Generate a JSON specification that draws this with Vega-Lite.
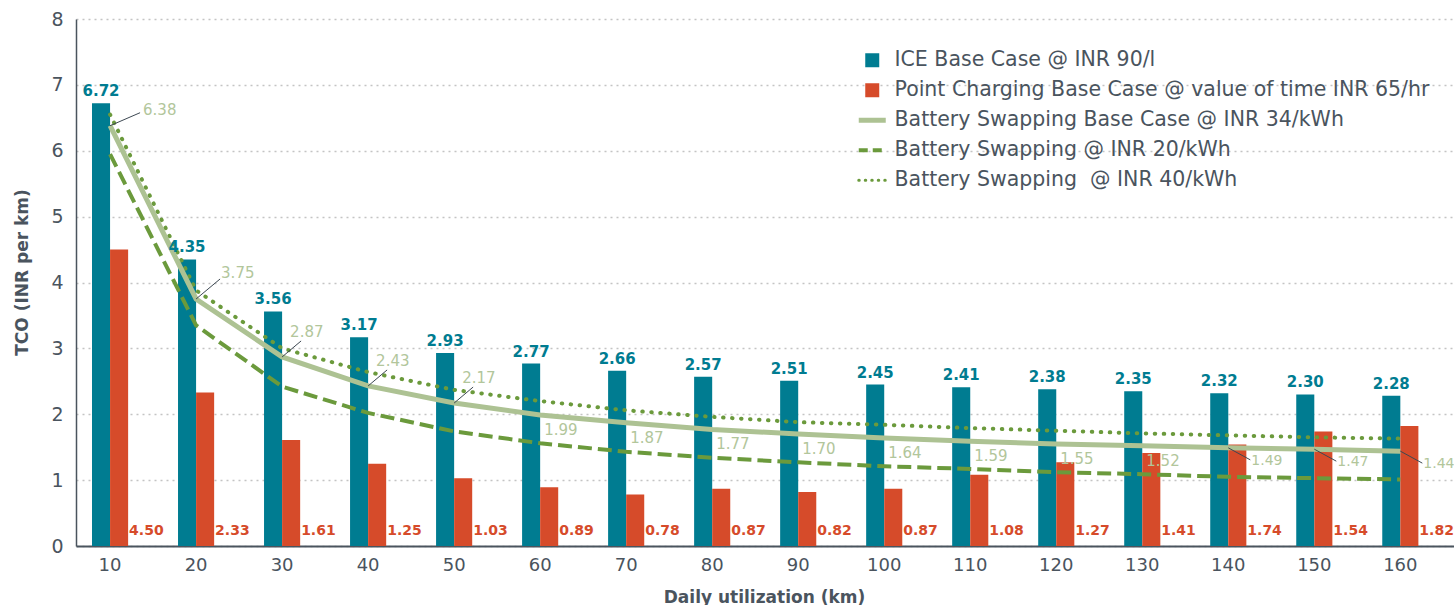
{
  "$schema": "https://vega.github.io/schema/vega-lite/v6.json",
  "width": 1378,
  "height": 527,
  "autosize": {"type": "none"},
  "padding": {"left": 76, "top": 19, "right": 0, "bottom": 59},
  "config": {
    "view": {"stroke": null},
    "font": "DejaVu Sans",
    "text": {"font": "DejaVu Sans"}
  },
  "data": {
    "values": [
      {"km": 10, "series": "ICE Base Case @ INR 90/l", "value": 6.72},
      {"km": 20, "series": "ICE Base Case @ INR 90/l", "value": 4.35},
      {"km": 30, "series": "ICE Base Case @ INR 90/l", "value": 3.56},
      {"km": 40, "series": "ICE Base Case @ INR 90/l", "value": 3.17},
      {"km": 50, "series": "ICE Base Case @ INR 90/l", "value": 2.93},
      {"km": 60, "series": "ICE Base Case @ INR 90/l", "value": 2.77},
      {"km": 70, "series": "ICE Base Case @ INR 90/l", "value": 2.66},
      {"km": 80, "series": "ICE Base Case @ INR 90/l", "value": 2.57},
      {"km": 90, "series": "ICE Base Case @ INR 90/l", "value": 2.51},
      {"km": 100, "series": "ICE Base Case @ INR 90/l", "value": 2.45},
      {"km": 110, "series": "ICE Base Case @ INR 90/l", "value": 2.41},
      {"km": 120, "series": "ICE Base Case @ INR 90/l", "value": 2.38},
      {"km": 130, "series": "ICE Base Case @ INR 90/l", "value": 2.35},
      {"km": 140, "series": "ICE Base Case @ INR 90/l", "value": 2.32},
      {"km": 150, "series": "ICE Base Case @ INR 90/l", "value": 2.30},
      {"km": 160, "series": "ICE Base Case @ INR 90/l", "value": 2.28},
      {"km": 10, "series": "Point Charging Base Case @ value of time INR 65/hr", "value": 4.50, "label": "4.50"},
      {"km": 20, "series": "Point Charging Base Case @ value of time INR 65/hr", "value": 2.33, "label": "2.33"},
      {"km": 30, "series": "Point Charging Base Case @ value of time INR 65/hr", "value": 1.61, "label": "1.61"},
      {"km": 40, "series": "Point Charging Base Case @ value of time INR 65/hr", "value": 1.25, "label": "1.25"},
      {"km": 50, "series": "Point Charging Base Case @ value of time INR 65/hr", "value": 1.03, "label": "1.03"},
      {"km": 60, "series": "Point Charging Base Case @ value of time INR 65/hr", "value": 0.89, "label": "0.89"},
      {"km": 70, "series": "Point Charging Base Case @ value of time INR 65/hr", "value": 0.78, "label": "0.78"},
      {"km": 80, "series": "Point Charging Base Case @ value of time INR 65/hr", "value": 0.87, "label": "0.87"},
      {"km": 90, "series": "Point Charging Base Case @ value of time INR 65/hr", "value": 0.82, "label": "0.82"},
      {"km": 100, "series": "Point Charging Base Case @ value of time INR 65/hr", "value": 0.87, "label": "0.87"},
      {"km": 110, "series": "Point Charging Base Case @ value of time INR 65/hr", "value": 1.08, "label": "1.08"},
      {"km": 120, "series": "Point Charging Base Case @ value of time INR 65/hr", "value": 1.27, "label": "1.27"},
      {"km": 130, "series": "Point Charging Base Case @ value of time INR 65/hr", "value": 1.41, "label": "1.41"},
      {"km": 140, "series": "Point Charging Base Case @ value of time INR 65/hr", "value": 1.54, "label": "1.74"},
      {"km": 150, "series": "Point Charging Base Case @ value of time INR 65/hr", "value": 1.74, "label": "1.54"},
      {"km": 160, "series": "Point Charging Base Case @ value of time INR 65/hr", "value": 1.82, "label": "1.82"},
      {"km": 10, "series": "Battery Swapping Base Case @ INR 34/kWh", "value": 6.38},
      {"km": 20, "series": "Battery Swapping Base Case @ INR 34/kWh", "value": 3.75},
      {"km": 30, "series": "Battery Swapping Base Case @ INR 34/kWh", "value": 2.87},
      {"km": 40, "series": "Battery Swapping Base Case @ INR 34/kWh", "value": 2.43},
      {"km": 50, "series": "Battery Swapping Base Case @ INR 34/kWh", "value": 2.17},
      {"km": 60, "series": "Battery Swapping Base Case @ INR 34/kWh", "value": 1.99},
      {"km": 70, "series": "Battery Swapping Base Case @ INR 34/kWh", "value": 1.87},
      {"km": 80, "series": "Battery Swapping Base Case @ INR 34/kWh", "value": 1.77},
      {"km": 90, "series": "Battery Swapping Base Case @ INR 34/kWh", "value": 1.70},
      {"km": 100, "series": "Battery Swapping Base Case @ INR 34/kWh", "value": 1.64},
      {"km": 110, "series": "Battery Swapping Base Case @ INR 34/kWh", "value": 1.59},
      {"km": 120, "series": "Battery Swapping Base Case @ INR 34/kWh", "value": 1.55},
      {"km": 130, "series": "Battery Swapping Base Case @ INR 34/kWh", "value": 1.52},
      {"km": 140, "series": "Battery Swapping Base Case @ INR 34/kWh", "value": 1.49},
      {"km": 150, "series": "Battery Swapping Base Case @ INR 34/kWh", "value": 1.47},
      {"km": 160, "series": "Battery Swapping Base Case @ INR 34/kWh", "value": 1.44},
      {"km": 10, "series": "Battery Swapping @ INR 20/kWh", "value": 5.95},
      {"km": 20, "series": "Battery Swapping @ INR 20/kWh", "value": 3.35},
      {"km": 30, "series": "Battery Swapping @ INR 20/kWh", "value": 2.42},
      {"km": 40, "series": "Battery Swapping @ INR 20/kWh", "value": 2.02},
      {"km": 50, "series": "Battery Swapping @ INR 20/kWh", "value": 1.74},
      {"km": 60, "series": "Battery Swapping @ INR 20/kWh", "value": 1.56},
      {"km": 70, "series": "Battery Swapping @ INR 20/kWh", "value": 1.43},
      {"km": 80, "series": "Battery Swapping @ INR 20/kWh", "value": 1.34},
      {"km": 90, "series": "Battery Swapping @ INR 20/kWh", "value": 1.27},
      {"km": 100, "series": "Battery Swapping @ INR 20/kWh", "value": 1.21},
      {"km": 110, "series": "Battery Swapping @ INR 20/kWh", "value": 1.17},
      {"km": 120, "series": "Battery Swapping @ INR 20/kWh", "value": 1.12},
      {"km": 130, "series": "Battery Swapping @ INR 20/kWh", "value": 1.09},
      {"km": 140, "series": "Battery Swapping @ INR 20/kWh", "value": 1.05},
      {"km": 150, "series": "Battery Swapping @ INR 20/kWh", "value": 1.03},
      {"km": 160, "series": "Battery Swapping @ INR 20/kWh", "value": 1.01},
      {"km": 10, "series": "Battery Swapping  @ INR 40/kWh", "value": 6.55},
      {"km": 20, "series": "Battery Swapping  @ INR 40/kWh", "value": 3.88},
      {"km": 30, "series": "Battery Swapping  @ INR 40/kWh", "value": 3.0},
      {"km": 40, "series": "Battery Swapping  @ INR 40/kWh", "value": 2.64},
      {"km": 50, "series": "Battery Swapping  @ INR 40/kWh", "value": 2.37},
      {"km": 60, "series": "Battery Swapping  @ INR 40/kWh", "value": 2.20},
      {"km": 70, "series": "Battery Swapping  @ INR 40/kWh", "value": 2.06},
      {"km": 80, "series": "Battery Swapping  @ INR 40/kWh", "value": 1.96},
      {"km": 90, "series": "Battery Swapping  @ INR 40/kWh", "value": 1.88},
      {"km": 100, "series": "Battery Swapping  @ INR 40/kWh", "value": 1.84},
      {"km": 110, "series": "Battery Swapping  @ INR 40/kWh", "value": 1.79},
      {"km": 120, "series": "Battery Swapping  @ INR 40/kWh", "value": 1.75},
      {"km": 130, "series": "Battery Swapping  @ INR 40/kWh", "value": 1.71},
      {"km": 140, "series": "Battery Swapping  @ INR 40/kWh", "value": 1.68},
      {"km": 150, "series": "Battery Swapping  @ INR 40/kWh", "value": 1.65},
      {"km": 160, "series": "Battery Swapping  @ INR 40/kWh", "value": 1.63}
    ]
  },
  "encoding": {
    "x": {
      "field": "km",
      "type": "ordinal",
      "scale": {"paddingInner": 0.58, "paddingOuter": 0.3, "align": 0.31},
      "axis": {
        "title": "Daily utilization (km)",
        "titleFont": "DejaVu Sans",
        "titleFontSize": 17,
        "titleFontWeight": "bold",
        "titleColor": "#4a545e",
        "titleX": 688,
        "titleY": 51,
        "titleBaseline": "middle",
        "labelAngle": 0,
        "labelFont": "DejaVu Sans",
        "labelFontSize": 18,
        "labelColor": "#4a545e",
        "labelPadding": 10,
        "ticks": false,
        "domainColor": "#4a545e",
        "domainWidth": 2
      }
    },
    "y": {
      "field": "value",
      "type": "quantitative",
      "scale": {"domain": [0, 8], "nice": false},
      "axis": {
        "title": "TCO (INR per km)",
        "titleFont": "DejaVu Sans",
        "titleFontSize": 17,
        "titleFontWeight": "bold",
        "titleColor": "#4a545e",
        "titleX": -54,
        "titleY": 253,
        "titleAngle": -90,
        "titleAlign": "center",
        "titleBaseline": "middle",
        "values": [0, 1, 2, 3, 4, 5, 6, 7, 8],
        "labelFont": "DejaVu Sans",
        "labelFontSize": 19,
        "labelColor": "#4a545e",
        "labelPadding": 13,
        "ticks": false,
        "domainColor": "#4a545e",
        "domainWidth": 1.5,
        "grid": true,
        "gridColor": "#c4c4c4",
        "gridDash": [2, 4],
        "gridWidth": 1.5
      }
    }
  },
  "layer": [
    {
      "transform": [{"filter": {"field": "series", "oneOf": ["ICE Base Case @ INR 90/l", "Point Charging Base Case @ value of time INR 65/hr"]}}],
      "mark": {"type": "bar"},
      "encoding": {
        "xOffset": {"field": "series", "type": "nominal", "scale": {"domain": ["ICE Base Case @ INR 90/l", "Point Charging Base Case @ value of time INR 65/hr"]}},
        "color": {
          "field": "series",
          "type": "nominal",
          "scale": {
            "domain": ["ICE Base Case @ INR 90/l", "Point Charging Base Case @ value of time INR 65/hr", "Battery Swapping Base Case @ INR 34/kWh", "Battery Swapping @ INR 20/kWh", "Battery Swapping  @ INR 40/kWh"],
            "range": ["#007c91", "#d64b2a", "#adc293", "#6b9a3c", "#6b9a3c"]
          },
          "legend": {
            "title": null,
            "orient": "none",
            "legendX": 786,
            "legendY": 31,
            "symbolSize": 729,
            "symbolType": "stroke",
            "rowPadding": 9,
            "labelFont": "DejaVu Sans",
            "labelFontSize": 20.5,
            "labelColor": "#4a545e",
            "labelOffset": 12,
            "labelLimit": 700,
            "labelExpr": "datum.index == 4 ? 'Battery Swapping \u00a0@ INR 40/kWh' : datum.label",
            "encode": {
              "symbols": {
                "update": {
                  "shape": {"signal": "datum.index <= 1 ? 'square' : 'stroke'"},
                  "size": {"signal": "datum.index <= 1 ? 196 : 729"},
                  "fill": {"signal": "datum.index <= 1 ? scale('color', datum.value) : 'transparent'"},
                  "stroke": {"signal": "scale('color', datum.value)"},
                  "strokeWidth": {"signal": "datum.index == 2 ? 5 : datum.index == 3 ? 4 : datum.index == 4 ? 3 : 0"},
                  "strokeDash": {"signal": "datum.index == 3 ? [9, 5] : datum.index == 4 ? [0.5, 6] : [1, 0]"},
                  "strokeCap": {"signal": "datum.index == 4 ? 'round' : 'butt'"},
                  "opacity": {"value": 1}
                }
              }
            }
          }
        }
      }
    },
    {
      "transform": [{"filter": {"field": "series", "equal": "Battery Swapping  @ INR 40/kWh"}}],
      "mark": {"type": "line", "strokeWidth": 4, "strokeDash": [0.5, 8.5], "strokeCap": "round"},
      "encoding": {"color": {"field": "series", "type": "nominal"}}
    },
    {
      "transform": [{"filter": {"field": "series", "equal": "Battery Swapping @ INR 20/kWh"}}],
      "mark": {"type": "line", "strokeWidth": 4, "strokeDash": [14, 6]},
      "encoding": {"color": {"field": "series", "type": "nominal"}}
    },
    {
      "transform": [{"filter": {"field": "series", "equal": "Battery Swapping Base Case @ INR 34/kWh"}}],
      "mark": {"type": "line", "strokeWidth": 5},
      "encoding": {"color": {"field": "series", "type": "nominal"}}
    },
    {
      "transform": [{"filter": {"field": "series", "equal": "ICE Base Case @ INR 90/l"}}],
      "mark": {"type": "text", "baseline": "bottom", "dy": -4, "fontSize": 15, "fontWeight": "bold", "color": "#007c91"},
      "encoding": {
        "xOffset": {"field": "series", "type": "nominal"},
        "text": {"field": "value", "type": "quantitative", "format": ".2f"}
      }
    },
    {
      "transform": [{"filter": {"field": "series", "equal": "Point Charging Base Case @ value of time INR 65/hr"}}],
      "mark": {"type": "text", "align": "left", "baseline": "middle", "dx": 10, "dy": -15, "fontSize": 14, "fontWeight": "bold", "color": "#d64b2a"},
      "encoding": {
        "xOffset": {"field": "series", "type": "nominal"},
        "y": {"datum": 0},
        "text": {"field": "label", "type": "nominal"}
      }
    },
    {
      "transform": [{"filter": {"and": [{"field": "series", "equal": "Battery Swapping Base Case @ INR 34/kWh"}, {"field": "km", "oneOf": [10]}]}}],
      "mark": {"type": "rule", "color": "#3d4852", "strokeWidth": 1, "x2Offset": 30, "y2Offset": -13},
      "encoding": {"x2": {"field": "km"}, "y2": {"field": "value"}}
    },
    {
      "transform": [{"filter": {"and": [{"field": "series", "equal": "Battery Swapping Base Case @ INR 34/kWh"}, {"field": "km", "oneOf": [20]}]}}],
      "mark": {"type": "rule", "color": "#3d4852", "strokeWidth": 1, "x2Offset": 24, "y2Offset": -20},
      "encoding": {"x2": {"field": "km"}, "y2": {"field": "value"}}
    },
    {
      "transform": [{"filter": {"and": [{"field": "series", "equal": "Battery Swapping Base Case @ INR 34/kWh"}, {"field": "km", "oneOf": [30, 40, 50]}]}}],
      "mark": {"type": "rule", "color": "#3d4852", "strokeWidth": 1, "x2Offset": 19, "y2Offset": -16},
      "encoding": {"x2": {"field": "km"}, "y2": {"field": "value"}}
    },
    {
      "transform": [{"filter": {"and": [{"field": "series", "equal": "Battery Swapping Base Case @ INR 34/kWh"}, {"field": "km", "oneOf": [140, 150, 160]}]}}],
      "mark": {"type": "rule", "color": "#3d4852", "strokeWidth": 1, "x2Offset": 22, "y2Offset": 12},
      "encoding": {"x2": {"field": "km"}, "y2": {"field": "value"}}
    },
    {
      "transform": [{"filter": {"and": [{"field": "series", "equal": "Battery Swapping Base Case @ INR 34/kWh"}, {"field": "km", "oneOf": [10]}]}}],
      "mark": {"type": "text", "align": "left", "baseline": "middle", "dx": 33, "dy": -16, "fontSize": 15, "color": "#b2c69b"},
      "encoding": {"text": {"field": "value", "type": "quantitative", "format": ".2f"}}
    },
    {
      "transform": [{"filter": {"and": [{"field": "series", "equal": "Battery Swapping Base Case @ INR 34/kWh"}, {"field": "km", "oneOf": [20]}]}}],
      "mark": {"type": "text", "align": "left", "baseline": "middle", "dx": 25, "dy": -26, "fontSize": 15, "color": "#b2c69b"},
      "encoding": {"text": {"field": "value", "type": "quantitative", "format": ".2f"}}
    },
    {
      "transform": [{"filter": {"and": [{"field": "series", "equal": "Battery Swapping Base Case @ INR 34/kWh"}, {"field": "km", "oneOf": [30, 40, 50]}]}}],
      "mark": {"type": "text", "align": "left", "baseline": "middle", "dx": 8, "dy": -25, "fontSize": 15, "color": "#b2c69b"},
      "encoding": {"text": {"field": "value", "type": "quantitative", "format": ".2f"}}
    },
    {
      "transform": [{"filter": {"and": [{"field": "series", "equal": "Battery Swapping Base Case @ INR 34/kWh"}, {"field": "km", "oneOf": [60, 70, 80, 90, 100, 110, 120, 130]}]}}],
      "mark": {"type": "text", "align": "left", "baseline": "middle", "dx": 4, "dy": 15, "fontSize": 15, "color": "#b2c69b"},
      "encoding": {"text": {"field": "value", "type": "quantitative", "format": ".2f"}}
    },
    {
      "transform": [{"filter": {"and": [{"field": "series", "equal": "Battery Swapping Base Case @ INR 34/kWh"}, {"field": "km", "oneOf": [140, 150, 160]}]}}],
      "mark": {"type": "text", "align": "left", "baseline": "middle", "dx": 23, "dy": 13, "fontSize": 14, "color": "#b2c69b"},
      "encoding": {"text": {"field": "value", "type": "quantitative", "format": ".2f"}}
    }
  ]
}
